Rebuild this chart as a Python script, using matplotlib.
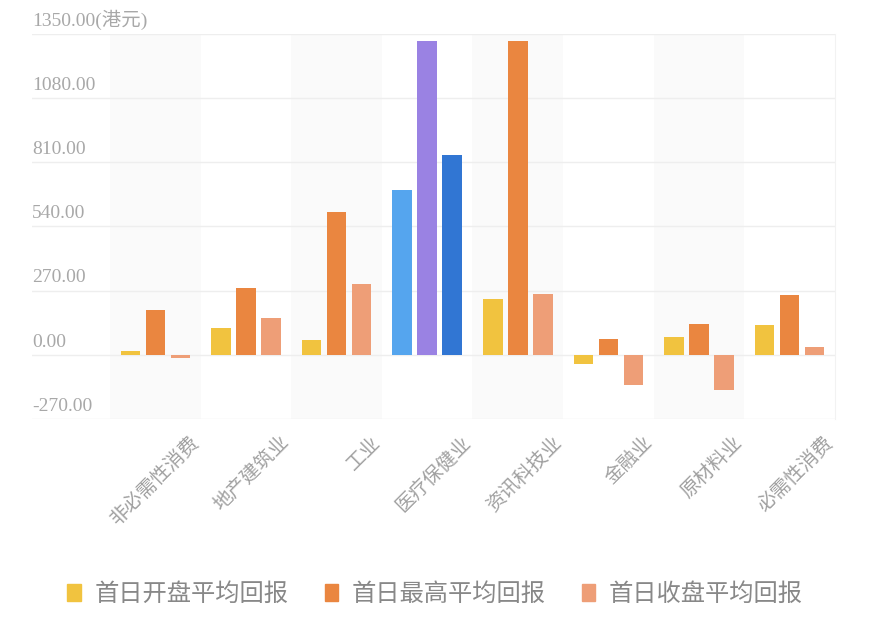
import numpy as np
import matplotlib
matplotlib.use('Agg')
import matplotlib.pyplot as plt
from matplotlib.patches import Patch
from matplotlib.transforms import ScaledTranslation, blended_transform_factory

plt.rcParams['font.family'] = ['Noto Sans CJK SC', 'DejaVu Sans']

# 行业与三项回报（港元）
categories = ['非必需性消费', '地产建筑业', '工业', '医疗保健业', '资讯科技业', '金融业', '原材料业', '必需性消费']
open_ret = [17, 111, 63, 694, 234, -39, 76, 125]
high_ret = [188, 283, 599, 1322, 1322, 66, 128, 251]
close_ret = [-15, 153, 297, 841, 255, -127, -147, 31]
series_names = ['首日开盘平均回报', '首日最高平均回报', '首日收盘平均回报']
y_ticks = [-270, 0, 270, 540, 810, 1080, 1350]
y_tick_labels = ['-270.00', '0.00', '270.00', '540.00', '810.00', '1080.00', '1350.00(港元)']

series_colors = ['#F1C33F', '#EA8640', '#EE9E77']
# 医疗保健业一组用了蓝紫色
highlight_idx = 3
highlight_colors = ['#55A5EE', '#9A82E3', '#3176D3']

fig = plt.figure(figsize=(8.7, 6.24), dpi=100)
ax = fig.add_axes([32 / 870, 1 - 419 / 624, (835 - 32) / 870, (419 - 34) / 624])

x = np.arange(len(categories))
width = 0.215
step = 0.276

# 隔列浅灰底色
for i in range(0, len(categories), 2):
    ax.axvspan(i - 0.5, i + 0.5, color='#fafafa', zorder=0, lw=0)

for k, vals in enumerate([open_ret, high_ret, close_ret]):
    colors = [highlight_colors[k] if i == highlight_idx else series_colors[k] for i in range(len(categories))]
    ax.bar(x + (k - 1) * step, vals, width=width, color=colors, zorder=3)

ax.set_xlim(-1.36, 7.5)
ax.set_ylim(-270, 1350)
ax.set_yticks(y_ticks)
ax.set_yticklabels([])
ax.tick_params(axis='y', length=0)
ax.grid(axis='y', color='#eeeeee', lw=1, zorder=1)
for s in ['top', 'left', 'bottom']:
    ax.spines[s].set_visible(False)
ax.spines['right'].set_color('#f2f2f2')

# y轴标签写在网格线上方
trans = blended_transform_factory(ax.transAxes, ax.transData)
off = ScaledTranslation(0, 3 / 72, fig.dpi_scale_trans)
for v, lab in zip(y_ticks, y_tick_labels):
    ax.text(0.0, v, lab, transform=trans + off, ha='left', va='bottom',
            fontsize=14, color='#a8a8a8', family=['Liberation Serif', 'Noto Sans CJK SC'])

# x轴标签旋转45度
ax.set_xticks(x)
ax.set_xticklabels([])
ax.tick_params(axis='x', length=0)
xoff = ScaledTranslation(48 / 100, -13 / 100, fig.dpi_scale_trans)
xtrans = blended_transform_factory(ax.transData, ax.transAxes)
for i, c in enumerate(categories):
    ax.text(i, 0, c, transform=xtrans + xoff, rotation=45, ha='right', va='top',
            fontsize=14, color='#a0a0a0')

handles = [Patch(color=c) for c in series_colors]
fig.legend(handles, series_names, loc='center', bbox_to_anchor=(0.5, 1 - 594 / 624),
           ncol=3, frameon=False, fontsize=17.5, labelcolor='#888888',
           handlelength=0.55, handleheight=0.75, handletextpad=0.55, columnspacing=1.5)

fig.savefig('out.png', dpi=100, facecolor='white')
